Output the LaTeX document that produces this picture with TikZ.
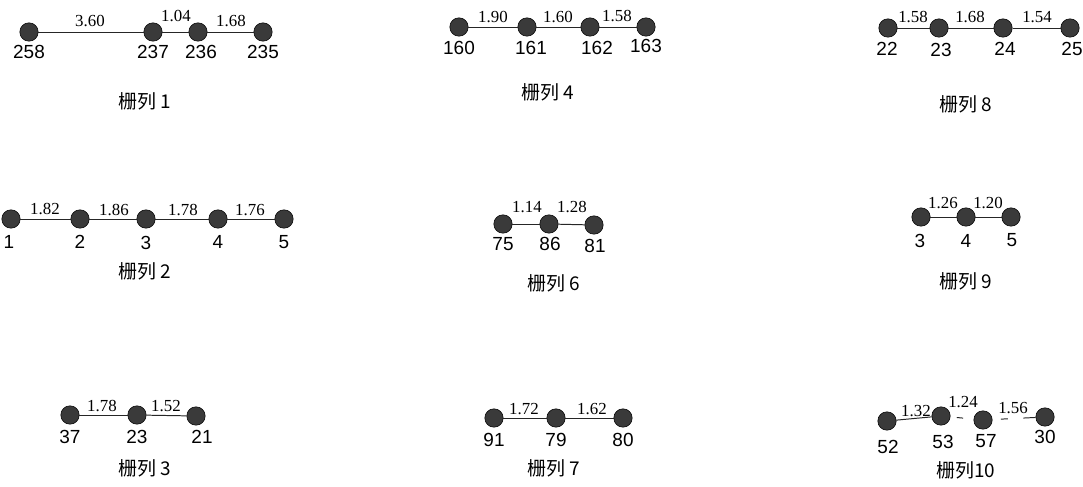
\documentclass[tikz,border=0pt]{standalone}
\usepackage{fontspec}
\setmainfont{Liberation Serif}
\setsansfont{Liberation Sans}
\newfontfamily\cjkfont{Noto Sans CJK SC}
\usepackage{xcolor}
\definecolor{dotgray}{HTML}{3A3A3A}
\tikzset{
  dot/.style={circle, draw=black, fill=dotgray, inner sep=0pt, minimum size=0.46cm},
  vlab/.style={font=\sffamily\fontsize{13.5}{14}\selectfont, inner sep=1pt},
  elab/.style={font=\fontsize{12}{12}\selectfont, inner sep=1pt},
  title/.style={font=\cjkfont\fontsize{13.5}{14}\selectfont, inner sep=1pt},
  edge/.style={line width=0.7pt, draw=black!85}
}
\begin{document}
\begin{tikzpicture}[x=0.025cm, y=-0.025cm]
  \useasboundingbox (0,0) rectangle (1083,486);
  % group 1
  \node[dot] (a1) at (29,32) {};
  \node[dot] (a2) at (153,32) {};
  \node[dot] (a3) at (198,32) {};
  \node[dot] (a4) at (263,32) {};
  \draw[edge] (a1) -- (a2);
  \draw[edge] (a2) -- (a3);
  \draw[edge] (a3) -- (a4);
  \node[vlab] (la1) at (29,52) {258};
  \node[vlab] (la2) at (153,52) {237};
  \node[vlab] (la3) at (201,52) {236};
  \node[vlab] (la4) at (263,52) {235};
  \node[elab] (ea1) at (90,21) {3.60};
  \node[elab] (ea2) at (176,16) {1.04};
  \node[elab] (ea3) at (231,21) {1.68};
  \node[title] (ta) at (145,101) {栅列 1};
  % group 4
  \node[dot] (d1) at (459,27) {};
  \node[dot] (d2) at (527,27) {};
  \node[dot] (d3) at (590,27) {};
  \node[dot] (d4) at (646,27) {};
  \draw[edge] (d1) -- (d2);
  \draw[edge] (d2) -- (d3);
  \draw[edge] (d3) -- (d4);
  \node[vlab] (ld1) at (459,48) {160};
  \node[vlab] (ld2) at (531,48) {161};
  \node[vlab] (ld3) at (597,48) {162};
  \node[vlab] (ld4) at (646,46) {163};
  \node[elab] (ed1) at (493,17) {1.90};
  \node[elab] (ed2) at (558,17) {1.60};
  \node[elab] (ed3) at (617,16) {1.58};
  \node[title] (td) at (548,92) {栅列 4};
  % group 8
  \node[dot] (h1) at (888,28) {};
  \node[dot] (h2) at (939,28) {};
  \node[dot] (h3) at (1003,28) {};
  \node[dot] (h4) at (1070,28) {};
  \draw[edge] (h1) -- (h2);
  \draw[edge] (h2) -- (h3);
  \draw[edge] (h3) -- (h4);
  \node[vlab] (lh1) at (887,49) {22};
  \node[vlab] (lh2) at (941,50) {23};
  \node[vlab] (lh3) at (1005,49) {24};
  \node[vlab] (lh4) at (1072,49) {25};
  \node[elab] (eh1) at (913,17) {1.58};
  \node[elab] (eh2) at (970,17) {1.68};
  \node[elab] (eh3) at (1037,17) {1.54};
  \node[title] (th) at (966,104) {栅列 8};
  % group 2
  \node[dot] (b1) at (11,219) {};
  \node[dot] (b2) at (80,219) {};
  \node[dot] (b3) at (146,219) {};
  \node[dot] (b4) at (218,219) {};
  \node[dot] (b5) at (284,219) {};
  \draw[edge] (b1) -- (b2);
  \draw[edge] (b2) -- (b3);
  \draw[edge] (b3) -- (b4);
  \draw[edge] (b4) -- (b5);
  \node[vlab] (lb1) at (9,242) {1};
  \node[vlab] (lb2) at (80,242) {2};
  \node[vlab] (lb3) at (146,243) {3};
  \node[vlab] (lb4) at (218,242) {4};
  \node[vlab] (lb5) at (284,242) {5};
  \node[elab] (eb1) at (45,209) {1.82};
  \node[elab] (eb2) at (114,210) {1.86};
  \node[elab] (eb3) at (183,210) {1.78};
  \node[elab] (eb4) at (250,210) {1.76};
  \node[title] (tb) at (145,271) {栅列 2};
  % group 6
  \node[dot] (f1) at (503,224) {};
  \node[dot] (f2) at (549,224) {};
  \node[dot] (f3) at (594,225) {};
  \draw[edge] (f1) -- (f2);
  \draw[edge] (f2) -- (f3);
  \node[vlab] (lf1) at (503,244) {75};
  \node[vlab] (lf2) at (550,244) {86};
  \node[vlab] (lf3) at (595,246) {81};
  \node[elab] (ef1) at (527,207) {1.14};
  \node[elab] (ef2) at (572,207) {1.28};
  \node[title] (tf) at (554,283) {栅列 6};
  % group 9
  \node[dot] (i1) at (921,217) {};
  \node[dot] (i2) at (966,217) {};
  \node[dot] (i3) at (1011,217) {};
  \draw[edge] (i1) -- (i2);
  \draw[edge] (i2) -- (i3);
  \node[vlab] (li1) at (920,241) {3};
  \node[vlab] (li2) at (966,241) {4};
  \node[vlab] (li3) at (1012,240) {5};
  \node[elab] (ei1) at (943,203) {1.26};
  \node[elab] (ei2) at (988,203) {1.20};
  \node[title] (ti) at (966,281) {栅列 9};
  % group 3
  \node[dot] (c1) at (70,415) {};
  \node[dot] (c2) at (137,415) {};
  \node[dot] (c3) at (196,416) {};
  \draw[edge] (c1) -- (c2);
  \draw[edge] (c2) -- (c3);
  \node[vlab] (lc1) at (70,437) {37};
  \node[vlab] (lc2) at (137,437) {23};
  \node[vlab] (lc3) at (202,437) {21};
  \node[elab] (ec1) at (102,406) {1.78};
  \node[elab] (ec2) at (166,406) {1.52};
  \node[title] (tc) at (145,468) {栅列 3};
  % group 7
  \node[dot] (g1) at (494,418) {};
  \node[dot] (g2) at (556,418) {};
  \node[dot] (g3) at (623,418) {};
  \draw[edge] (g1) -- (g2);
  \draw[edge] (g2) -- (g3);
  \node[vlab] (lg1) at (494,440) {91};
  \node[vlab] (lg2) at (556,440) {79};
  \node[vlab] (lg3) at (623,440) {80};
  \node[elab] (eg1) at (524,409) {1.72};
  \node[elab] (eg2) at (592,409) {1.62};
  \node[title] (tg) at (554,468) {栅列 7};
  % group 10
  \node[dot] (j1) at (887,421) {};
  \node[dot] (j2) at (941,416) {};
  \node[dot] (j3) at (983,420) {};
  \node[dot] (j4) at (1045,417) {};
  \draw[edge] (j1) -- (j2);
  \draw[edge, dash pattern=on 0pt off 4.5pt on 4.5pt off 20pt] (j2) -- (j3);
  \draw[edge, dash pattern=on 0pt off 6pt on 5pt off 11pt on 12pt] (j3) -- (j4);
  \node[vlab] (lj1) at (888,447) {52};
  \node[vlab] (lj2) at (943,442) {53};
  \node[vlab] (lj3) at (986,441) {57};
  \node[vlab] (lj4) at (1045,437) {30};
  \node[elab] (ej1) at (916,411) {1.32};
  \node[elab] (ej2) at (963,402) {1.24};
  \node[elab] (ej3) at (1013,408) {1.56};
  \node[title] (tj) at (966,470) {栅列10};
\end{tikzpicture}
\end{document}
